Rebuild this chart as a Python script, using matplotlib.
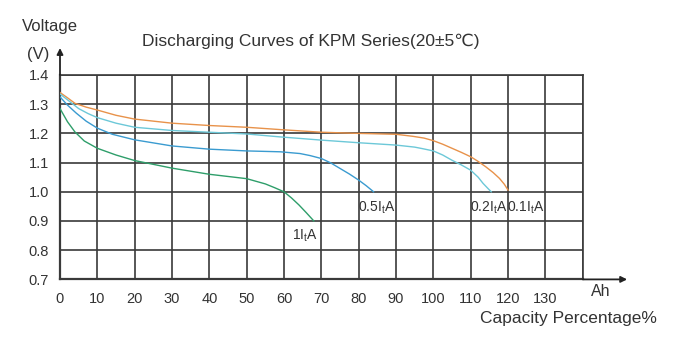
import matplotlib
matplotlib.use("Agg")
import matplotlib.pyplot as plt
from matplotlib import font_manager

names = {f.name for f in font_manager.fontManager.ttflist}
main = 'Liberation Sans Narrow' if 'Liberation Sans Narrow' in names else 'Liberation Sans'
plt.rcParams['font.family'] = [main, 'DejaVu Sans']
plt.rcParams['mathtext.default'] = 'regular'

# ---- data ----
x_ticks = [0, 10, 20, 30, 40, 50, 60, 70, 80, 90, 100, 110, 120, 130]
y_ticks = [0.7, 0.8, 0.9, 1.0, 1.1, 1.2, 1.3, 1.4]

cap_01 = [0, 2, 4, 7, 10, 15, 20, 30, 40, 50, 59, 70, 80, 90, 94.5, 97.5, 100,
          102.5, 105, 107.5, 110, 112, 114, 116, 117.7, 119, 120]
v_01 = [1.34, 1.322, 1.303, 1.29, 1.28, 1.262, 1.249, 1.235, 1.227, 1.221, 1.213,
        1.204, 1.200, 1.197, 1.19, 1.184, 1.175, 1.163, 1.149, 1.135, 1.12, 1.104,
        1.086, 1.066, 1.046, 1.026, 1.006]

cap_02 = [0, 2.5, 5, 7.5, 10, 15, 20, 30, 40, 50, 59, 70, 80, 90, 95, 97, 100,
          102.5, 105, 107.5, 110, 112, 113.3, 114.5, 115.5]
v_02 = [1.335, 1.31, 1.285, 1.268, 1.254, 1.235, 1.221, 1.21, 1.204, 1.198, 1.188,
        1.177, 1.168, 1.16, 1.153, 1.148, 1.14, 1.126, 1.108, 1.092, 1.074, 1.05,
        1.029, 1.013, 1.0]

cap_05 = [0, 2, 4.3, 7, 10, 14, 20, 30, 40, 50, 59, 64.3, 67, 70, 72.5, 75, 77.5,
          80, 82, 84]
v_05 = [1.325, 1.297, 1.27, 1.242, 1.218, 1.197, 1.178, 1.157, 1.146, 1.14, 1.137,
        1.131, 1.124, 1.114, 1.099, 1.08, 1.061, 1.04, 1.021, 1.0]

cap_1 = [0, 2, 4, 6.5, 10, 15, 20, 30, 40, 50, 55, 57.5, 60, 62, 64, 66, 68]
v_1 = [1.285, 1.24, 1.205, 1.174, 1.149, 1.126, 1.107, 1.081, 1.06, 1.045, 1.027,
       1.014, 1.0, 0.979, 0.955, 0.928, 0.9]

labels = ["1I$_t$A", "0.5I$_t$A", "0.2I$_t$A", "0.1I$_t$A"]
label_pos = [(65.6, 0.849), (84.8, 0.944), (114.9, 0.945), (124.8, 0.945)]

# ---- figure ----
fig = plt.figure(figsize=(6.84, 3.59), dpi=100)
ax = fig.add_axes([60/684, 1-279.4/359, 522.7/684, 204.4/359])
ax.set_xlim(0, 140)
ax.set_ylim(0.7, 1.4)
ax.set_xticks(list(range(0, 150, 10)))
ax.set_xticklabels([str(t) for t in x_ticks] + [''])
ax.set_yticks(y_ticks)
ax.set_yticklabels([f"{t:.1f}" for t in y_ticks])
ax.tick_params(length=0, labelsize=10.5, colors='#333333')
ax.tick_params(axis='x', pad=9)
ax.tick_params(axis='y', pad=8)
ax.grid(True, color='#3a3a3a', linewidth=1.2)
for s in ax.spines.values():
    s.set_color('#3a3a3a')
    s.set_linewidth(1.2)
ax.spines['left'].set_linewidth(1.6)
ax.spines['bottom'].set_linewidth(1.6)

ax.plot(cap_01, v_01, color='#E8924A', lw=1.0, zorder=3)
ax.plot(cap_02, v_02, color='#6CC8D8', lw=1.0, zorder=3)
ax.plot(cap_05, v_05, color='#3A9BD0', lw=1.0, zorder=3)
ax.plot(cap_1, v_1, color='#2E9E6A', lw=1.0, zorder=3)

for lab, (x, y) in zip(labels, label_pos):
    ax.text(x, y, lab, ha='center', va='center', fontsize=10, color='#333333')

# axis arrows
ax.annotate('', xy=(0, 1.132), xytext=(0, 1.0), xycoords='axes fraction',
            arrowprops=dict(arrowstyle='-|>', color='#222222', lw=1.3,
                            mutation_scale=9, shrinkA=0, shrinkB=0))
ax.annotate('', xy=(1.085, 0), xytext=(1.0, 0), xycoords='axes fraction',
            arrowprops=dict(arrowstyle='-|>', color='#222222', lw=1.3,
                            mutation_scale=9, shrinkA=0, shrinkB=0))

fig.text(311/684, 1-41.7/359, "Discharging Curves of KPM Series(20\u00b15\u2103)",
         ha='center', va='center', fontsize=12.5, color='#333333')
fig.text(50/684, 1-27/359, "Voltage", ha='center', va='center', fontsize=12, color='#333333')
fig.text(38/684, 1-55/359, "(V)", ha='center', va='center', fontsize=12, color='#333333')
fig.text(601/684, 1-291/359, "Ah", ha='center', va='center', fontsize=11.5, color='#333333')
fig.text(568/684, 1-319/359, "Capacity Percentage%", ha='center', va='center',
         fontsize=12.5, color='#333333')

fig.savefig("out.png", dpi=100, facecolor='white')
